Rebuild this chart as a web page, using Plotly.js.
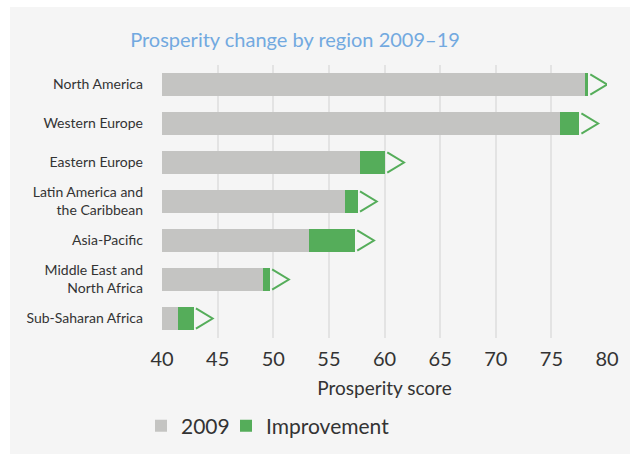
<!DOCTYPE html>
<html>
<head>
<meta charset="utf-8">
<script src="https://cdn.plot.ly/plotly-3.0.1.min.js"></script>
<style>
  html, body { margin: 0; padding: 0; background: #ffffff; }
  #chart { position: absolute; left: 10px; top: 7px; width: 620px; height: 447px; }
</style>
</head>
<body>
<div id="chart"></div>
<script>
const regions = [
  "North America",
  "Western Europe",
  "Eastern Europe",
  "Latin America and<br>the Caribbean",
  "Asia-Pacific",
  "Middle East and<br>North Africa",
  "Sub-Saharan Africa"
];
const score2009 = [78.0, 75.8, 57.8, 56.45, 53.2, 49.1, 41.4];
const improvement = [0.3, 1.7, 2.25, 1.15, 4.15, 0.6, 1.45];
const xTicks = [40, 45, 50, 55, 60, 65, 70, 75, 80];

const GRAY = "#c4c4c2";
const GREEN = "#55ad5a";
const FONT = "Lato, 'Noto Sans', sans-serif";

const pos = regions.map((_, i) => i);

// chevron markers after each bar, derived from the data
const chevX = [], chevY = [];
pos.forEach((p, i) => {
  const end = score2009[i] + improvement[i];
  chevX.push(end + 0.2, end + 1.7, end + 0.2, null);
  chevY.push(p - 0.26, p, p + 0.26, null);
});

const traces = [
  {
    type: "bar", orientation: "h", name: "2009",
    y: pos, x: score2009, legend: "legend",
    marker: { color: GRAY }, width: 0.59, hoverinfo: "skip"
  },
  {
    type: "bar", orientation: "h", name: "Improvement",
    y: pos, x: improvement, legend: "legend2",
    marker: { color: GREEN }, width: 0.59, hoverinfo: "skip"
  },
  {
    type: "scatter", mode: "lines", x: chevX, y: chevY,
    line: { color: GREEN, width: 2 }, showlegend: false,
    hoverinfo: "skip", cliponaxis: false
  }
];

const legendBase = {
  orientation: "h",
  xref: "container", yref: "container",
  xanchor: "left",
  y: 1 - (426 - 7) / 447, yanchor: "middle",
  font: { size: 21, color: "#333333" },
  bgcolor: "rgba(0,0,0,0)"
};

const layout = {
  width: 620, height: 447,
  paper_bgcolor: "#f5f5f5", plot_bgcolor: "#f5f5f5",
  barmode: "stack",
  margin: { l: 152, r: 23, t: 58, b: 116, autoexpand: false },
  font: { family: FONT, color: "#333333" },
  title: {
    text: "Prosperity change by region 2009–19",
    font: { family: FONT, size: 20, color: "#72a9e0" },
    xref: "container", yref: "container",
    x: 285 / 620, xanchor: "center",
    y: 1 - 33 / 447, yanchor: "middle"
  },
  xaxis: {
    range: [40, 80],
    tickvals: xTicks,
    ticktext: xTicks.map(String),
    showgrid: true, gridcolor: "#e3e3e3", gridwidth: 2,
    zeroline: false, showline: false, ticks: "",
    ticklabelstandoff: 7,
    tickfont: { size: 20, color: "#333333" },
    title: { text: "Prosperity score", font: { size: 19, color: "#333333" }, standoff: 12 }
  },
  yaxis: {
    range: [6.5, -0.5],
    tickvals: pos, ticktext: regions,
    showgrid: false, zeroline: false, showline: false, ticks: "",
    ticklabelstandoff: 18,
    tickfont: { size: 14, color: "#333333" }
  },
  showlegend: true,
  legend: Object.assign({}, legendBase, { x: (141 - 10) / 620 }),
  legend2: Object.assign({}, legendBase, { x: (226 - 10) / 620 })
};

Plotly.newPlot("chart", traces, layout, { displayModeBar: false, staticPlot: true });
</script>
</body>
</html>
